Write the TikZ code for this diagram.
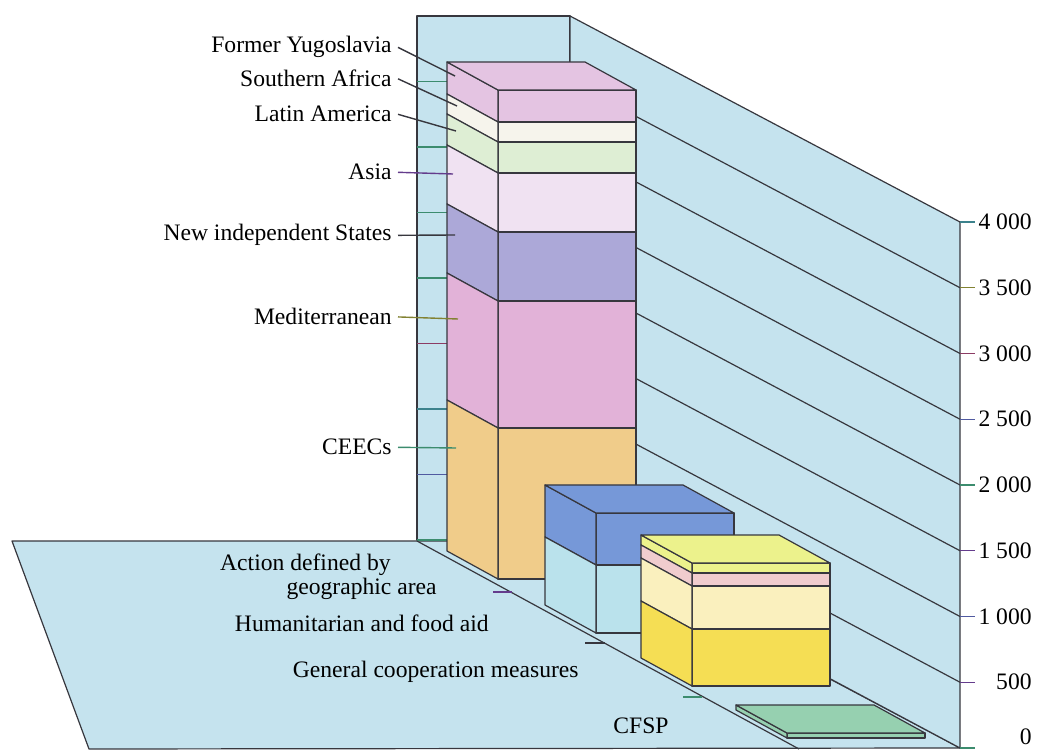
\documentclass[tikz,border=0pt]{standalone}
\usepackage{fontspec}
\setmainfont{Liberation Serif}
\definecolor{wallblue}{RGB}{197,227,238}
\definecolor{edge}{RGB}{55,55,62}
\definecolor{yugofill}{RGB}{228,196,226}
\definecolor{safrfill}{RGB}{246,244,236}
\definecolor{latfill}{RGB}{222,238,212}
\definecolor{asiafill}{RGB}{240,226,242}
\definecolor{nisfill}{RGB}{172,168,216}
\definecolor{medfill}{RGB}{226,178,216}
\definecolor{ceecfill}{RGB}{240,204,138}
\definecolor{humtop}{RGB}{118,152,216}
\definecolor{humlow}{RGB}{186,226,236}
\definecolor{gentop}{RGB}{236,242,140}
\definecolor{genpink}{RGB}{240,204,206}
\definecolor{genlight}{RGB}{250,240,190}
\definecolor{genlow}{RGB}{245,222,84}
\definecolor{cfspfill}{RGB}{150,208,176}
\definecolor{tkgreen}{RGB}{60,140,110}
\definecolor{tkteal}{RGB}{60,130,140}
\definecolor{tkblue}{RGB}{80,90,160}
\definecolor{tkpurple}{RGB}{100,60,140}
\definecolor{tkred}{RGB}{140,60,100}
\definecolor{tkolive}{RGB}{130,130,50}
\begin{document}
\begin{tikzpicture}[x=0.5pt,y=-0.5pt,line join=round,
    face/.style={draw=edge,line width=0.6pt},
    gridline/.style={draw=edge,line width=0.6pt},
    lab/.style={anchor=base east,inner sep=0pt,font=\fontsize{11.8}{14}\selectfont},
    val/.style={anchor=east,inner sep=0pt,font=\fontsize{11.8}{14}\selectfont},
    leader/.style={draw=edge,line width=0.7pt}]
  \useasboundingbox (0,0) rectangle (1040,754);
  % floor and walls
  \filldraw[face,fill=wallblue] (12,541) -- (570,541) -- (960,748) -- (89,749) -- cycle;
  \filldraw[face,fill=wallblue] (417,16) rectangle (570,540);
  \filldraw[face,fill=wallblue] (570,16) -- (960,222) -- (960,748) -- (570,540) -- cycle;
  \foreach \k in {1,...,7}
    \draw[gridline] (570,540-65.5*\k) -- (960,748-65.75*\k);
  \foreach \k/\c in {0/tkgreen,1/tkblue,2/tkteal,3/tkred,4/tkgreen,5/tkgreen,6/tkgreen,7/tkgreen}
    \draw[leader,draw=\c] (417,540-65.5*\k) -- (447,540-65.5*\k);
  \draw[gridline] (417,541) -- (799,749);

  % columns, back to front
  \foreach \x/\t/\b/\c in {498/90/122/yugofill,498/122/142/safrfill,498/142/173/latfill,
      498/173/232/asiafill,498/232/301/nisfill,498/301/428/medfill,498/428/579/ceecfill,
      596/513/565/humtop,596/565/633/humlow,
      692/563/573/gentop,692/573/586/genpink,692/586/629/genlight,692/629/686/genlow,
      787/733/738/cfspfill}{
    \filldraw[face,fill=\c] (\x,\t) rectangle (\x+138,\b);
    \filldraw[face,fill=\c] (\x,\t) -- (\x-51,\t-28) -- (\x-51,\b-28) -- (\x,\b) -- cycle;
  }
  \foreach \x/\t/\c in {498/90/yugofill,596/513/humtop,692/563/gentop,787/733/cfspfill}
    \filldraw[face,fill=\c] (\x,\t) -- (\x-51,\t-28) -- (\x+87,\t-28) -- (\x+138,\t) -- cycle;

  % geographic areas
  \node[lab] (yugo) at (392,53) {Former Yugoslavia};
  \node[lab] (safr) at (392,87) {Southern Africa};
  \node[lab] (lat) at (392,122) {Latin America};
  \node[lab] (asia) at (392,180) {Asia};
  \node[lab] (nis) at (392,241) {New independent States};
  \node[lab] (med) at (392,325) {Mediterranean};
  \node[lab] (ceec) at (392,455) {CEECs};
  \coordinate (yugo-end) at (455,76);
  \coordinate (safr-end) at (457,106);
  \coordinate (lat-end) at (456,131);
  \coordinate (asia-end) at (453,174);
  \coordinate (nis-end) at (455,235);
  \coordinate (med-end) at (458,319);
  \coordinate (ceec-end) at (456,448);
  \draw[leader] ([xshift=3pt]yugo.east) -- (yugo-end);
  \draw[leader] ([xshift=3pt]safr.east) -- (safr-end);
  \draw[leader] ([xshift=3pt]lat.east) -- (lat-end);
  \draw[leader,draw=tkpurple] ([xshift=3pt]asia.east) -- (asia-end);
  \draw[leader] ([xshift=3pt]nis.east) -- (nis-end);
  \draw[leader,draw=tkolive] ([xshift=3pt]med.east) -- (med-end);
  \draw[leader,draw=tkgreen] ([xshift=3pt]ceec.east) -- (ceec-end);

  % headings on the floor
  \node[lab] (geo1) at (391,570) {Action defined by};
  \node[lab] (geo2) at (437,594) {geographic area};
  \node[lab] (hum) at (489,632) {Humanitarian and food aid};
  \node[lab] (gen) at (579,677) {General cooperation measures};
  \node[lab,anchor=base] (cfsp) at (641,733) {CFSP};
  \draw[leader,draw=tkpurple] (493,592) -- (512,592);
  \draw[leader] (585,643) -- (605,643);
  \draw[leader,draw=tkgreen] (683,697) -- (702,697);

  % value axis
  \foreach \k/\v/\c in {1/500/tkpurple,2/1 000/tkblue,3/1 500/tkpurple,
      4/2 000/tkgreen,5/2 500/tkblue,6/3 000/tkred,7/3 500/tkolive,8/4 000/tkteal}{
    \draw[leader,draw=\c] (960,748-65.75*\k) -- (975,748-65.75*\k);
    \node[val] (val\k) at (1032,748-65.75*\k) {\v};
  }
  \draw[leader,draw=tkgreen] (960,748) -- (975,748);
  \node[val] (val0) at (1032,737) {0};
\end{tikzpicture}
\end{document}
